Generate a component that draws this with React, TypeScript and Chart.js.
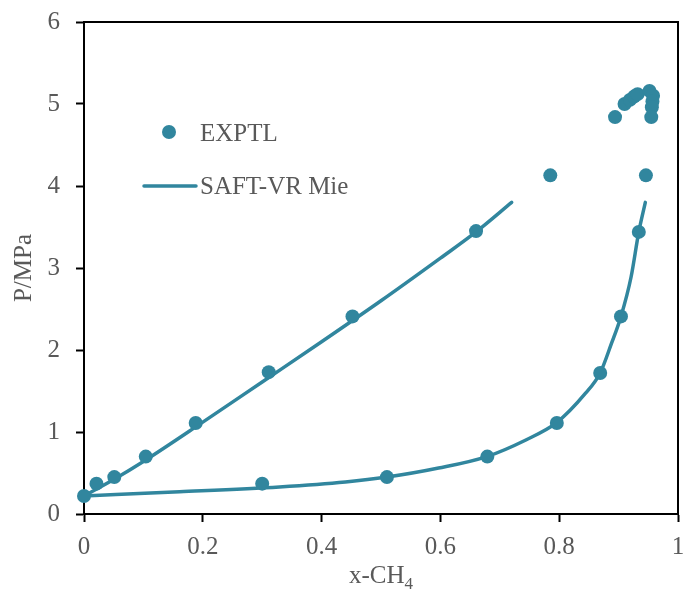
import React, { useEffect, useRef } from "react";
import { Chart, registerables } from "chart.js";

Chart.register(...registerables);

// Experimental data (x-CH4, P/MPa)
const expX = [0, 0.021, 0.051, 0.104, 0.188, 0.311, 0.452, 0.66, 0.785, 0.894, 0.91, 0.919, 0.926, 0.932, 0.952, 0.958, 0.957, 0.956, 0.955, 0.946, 0.934, 0.904, 0.869, 0.796, 0.679, 0.51, 0.3];
const expY = [0.22, 0.37, 0.45, 0.7, 1.11, 1.73, 2.41, 3.45, 4.13, 4.84, 5.0, 5.05, 5.09, 5.12, 5.16, 5.1, 5.03, 4.96, 4.84, 4.13, 3.44, 2.41, 1.72, 1.11, 0.7, 0.45, 0.37];

// SAFT-VR Mie branch 1 (upper-left curve)
const curve1X = [0, 0.05, 0.1, 0.2, 0.3, 0.4, 0.5, 0.6, 0.66, 0.72];
const curve1Y = [0.22, 0.42, 0.64, 1.12, 1.61, 2.1, 2.6, 3.12, 3.44, 3.8];

// SAFT-VR Mie branch 2 (lower-right curve)
const curve2X = [0, 0.161, 0.329, 0.44, 0.51, 0.597, 0.678, 0.743, 0.795, 0.844, 0.869, 0.888, 0.904, 0.921, 0.934, 0.945];
const curve2Y = [0.22, 0.27, 0.33, 0.39, 0.45, 0.56, 0.7, 0.9, 1.11, 1.47, 1.72, 2.08, 2.41, 2.89, 3.44, 3.8];

const xTicks = [0, 0.2, 0.4, 0.6, 0.8, 1];
const xTickLabels = ["0", "0.2", "0.4", "0.6", "0.8", "1"];
const yTicks = [0, 1, 2, 3, 4, 5, 6];

const legendLabels = ["EXPTL", "SAFT-VR Mie"];

const TEAL = "#31869E";
const GRAY = "#595959";
const FONT = "'Liberation Serif', 'Times New Roman', serif";

const zip = (xs: number[], ys: number[]) => xs.map((x, i) => ({ x, y: ys[i] }));

const boxAndLegend = {
  id: "boxAndLegend",
  afterDraw(chart: any) {
    const { ctx, chartArea } = chart;
    const { left, top, right, bottom } = chartArea;
    ctx.save();
    // frame
    ctx.strokeStyle = "#000";
    ctx.lineWidth = 2;
    ctx.beginPath();
    ctx.moveTo(left, top);
    ctx.lineTo(right, top);
    ctx.lineTo(right, bottom);
    ctx.stroke();

    // legend
    ctx.font = `25px ${FONT}`;
    ctx.textBaseline = "alphabetic";
    ctx.textAlign = "left";
    ctx.beginPath();
    ctx.fillStyle = TEAL;
    ctx.arc(left + 85, top + 110, 7, 0, Math.PI * 2);
    ctx.fill();
    ctx.fillStyle = GRAY;
    ctx.fillText(legendLabels[0], left + 116, top + 119);
    ctx.strokeStyle = TEAL;
    ctx.lineWidth = 3.5;
    ctx.lineCap = "round";
    ctx.beginPath();
    ctx.moveTo(left + 60, top + 164);
    ctx.lineTo(left + 112, top + 164);
    ctx.stroke();
    ctx.fillText(legendLabels[1], left + 116, top + 172);

    // x-axis title with subscript
    const cx = (left + right) / 2;
    const base = 583;
    ctx.font = `25px ${FONT}`;
    const main = "x-CH";
    const w1 = ctx.measureText(main).width;
    ctx.font = `17px ${FONT}`;
    const w2 = ctx.measureText("4").width;
    const sx = cx - (w1 + w2) / 2;
    ctx.font = `25px ${FONT}`;
    ctx.fillText(main, sx, base);
    ctx.font = `17px ${FONT}`;
    ctx.fillText("4", sx + w1, base + 6);
    ctx.restore();
  },
};

export default function App() {
  const ref = useRef<HTMLCanvasElement | null>(null);

  useEffect(() => {
    document.body.style.margin = "0";
    if (!ref.current) return;
    const chart = new Chart(ref.current, {
      type: "scatter",
      data: {
        datasets: [
          {
            label: legendLabels[0],
            data: zip(expX, expY),
            showLine: false,
            pointRadius: 7,
            pointBackgroundColor: TEAL,
            pointBorderWidth: 0,
            clip: false,
            order: 0,
          },
          {
            label: legendLabels[1],
            data: zip(curve1X, curve1Y),
            showLine: true,
            pointRadius: 0,
            borderColor: TEAL,
            borderWidth: 3.5,
            borderCapStyle: "round",
            cubicInterpolationMode: "monotone",
            clip: false,
            order: 1,
          },
          {
            label: legendLabels[1] + " ",
            data: zip(curve2X, curve2Y),
            showLine: true,
            pointRadius: 0,
            borderColor: TEAL,
            borderWidth: 3.5,
            borderCapStyle: "round",
            cubicInterpolationMode: "monotone",
            clip: false,
            order: 1,
          },
        ],
      },
      options: {
        animation: false,
        responsive: true,
        maintainAspectRatio: false,
        layout: { padding: { top: 22, right: 3, bottom: 0, left: 0 } },
        plugins: {
          legend: { display: false },
          tooltip: { enabled: false },
        },
        scales: {
          x: {
            type: "linear",
            min: 0,
            max: 1,
            afterBuildTicks: (scale: any) => {
              scale.ticks = xTicks.map((v) => ({ value: v }));
            },
            afterFit: (scale: any) => {
              scale.height = 76;
              scale.paddingLeft = 0;
              scale.paddingRight = 0;
            },
            ticks: {
              callback: (v: any) => {
                const i = xTicks.indexOf(Number(v));
                return i >= 0 ? xTickLabels[i] : "";
              },
              font: { family: FONT, size: 25 },
              color: GRAY,
              padding: 10,
              maxRotation: 0,
              autoSkip: false,
            },
            grid: {
              drawOnChartArea: false,
              drawTicks: true,
              tickLength: 8,
              tickWidth: 2,
              color: "#000",
            },
            border: { color: "#000", width: 2 },
            title: { display: false },
          },
          y: {
            type: "linear",
            min: 0,
            max: 6,
            afterBuildTicks: (scale: any) => {
              scale.ticks = yTicks.map((v) => ({ value: v }));
            },
            afterFit: (scale: any) => {
              scale.width = 84;
              scale.paddingTop = 0;
              scale.paddingBottom = 0;
            },
            ticks: {
              callback: (v: any) => String(v),
              font: { family: FONT, size: 25 },
              color: GRAY,
              padding: 16,
              autoSkip: false,
            },
            grid: {
              drawOnChartArea: false,
              drawTicks: true,
              tickLength: 8,
              tickWidth: 2,
              color: "#000",
            },
            border: { color: "#000", width: 2 },
            title: {
              display: true,
              text: "P/MPa",
              font: { family: FONT, size: 25 },
              color: GRAY,
              padding: { top: 9, bottom: 0 },
            },
          },
        },
      },
      plugins: [boxAndLegend],
    });
    return () => chart.destroy();
  }, []);

  return (
    <div style={{ width: 685, height: 590, position: "relative" }}>
      <canvas ref={ref} />
    </div>
  );
}
